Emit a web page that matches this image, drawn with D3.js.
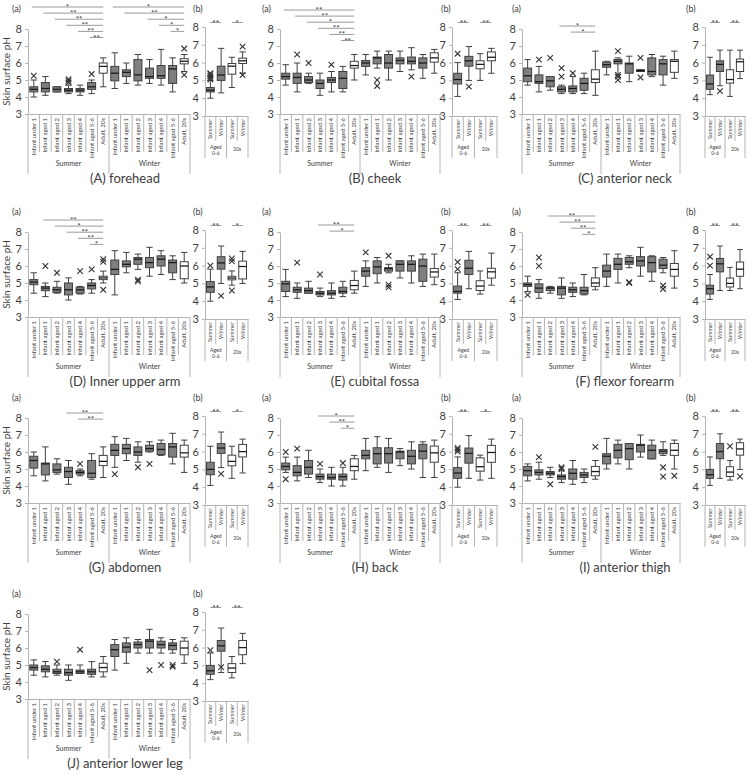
<!DOCTYPE html>
<html>
<head>
<meta charset="utf-8">
<script src="https://cdn.jsdelivr.net/npm/d3@7"></script>
<style>
body { margin: 0; background: #fff; }
text { font-family: Lato, "Open Sans", sans-serif; fill: #404040; }
</style>
</head>
<body>
<svg id="chart" width="750" height="781"></svg>
<script>
//categories and labels
var cats = ["Infant under 1", "Infant aged 1", "Infant aged 2", "Infant aged 3", "Infant aged 4", "Infant aged 5-6", "Adult, 20s"];
var seasons = ["Summer", "Winter"];
var bCats = ["Summer", "Winter", "Summer", "Winter"];
var bGroups = [["Aged", "0-6"], ["20s"]];
var yTicks = [3, 4, 5, 6, 7, 8];
var titles = ["(A) forehead", "(B) cheek", "(C) anterior  neck", "(D) Inner upper arm", "(E) cubital fossa",
              "(F) flexor forearm", "(G) abdomen", "(H) back", "(I) anterior thigh", "(J) anterior lower leg"];

// each box: [low whisker, q1, median, q3, high whisker, outliers]
var foreheadA = [
  [4.0,4.3,4.45,4.6,5.0,[5.25]], [4.1,4.3,4.5,4.85,5.2,[]], [4.3,4.3,4.45,4.6,4.6,[]],
  [4.2,4.3,4.4,4.5,4.7,[4.85,4.95,5.05]], [4.1,4.3,4.4,4.5,4.7,[]], [4.2,4.45,4.6,4.85,5.0,[5.35]],
  [4.6,5.4,5.8,6.0,6.3,[]],
  [4.5,4.95,5.4,5.8,6.6,[]], [4.8,5.2,5.45,5.6,6.0,[]], [4.7,4.95,5.3,6.2,6.5,[]],
  [4.8,5.1,5.2,5.7,6.2,[]], [4.7,5.1,5.25,5.85,6.8,[]], [4.3,4.8,5.65,5.85,6.3,[]],
  [5.5,5.95,6.1,6.25,6.5,[6.85,5.3]]
];
var foreheadB = [
  [4.0,4.35,4.45,4.6,5.0,[5.05,5.15,5.25,5.35,5.4]], [4.3,5.0,5.3,5.8,6.8,[]],
  [4.6,5.35,5.8,5.95,6.3,[]], [5.4,5.95,6.1,6.25,6.6,[6.9,5.3]]
];
var foreheadSig = [[0,6,"*"],[1,6,"**"],[2,6,"**"],[3,6,"**"],[4,6,"**"],[5,6,"**"],
                   [7,13,"*"],[8,13,"**"],[10,13,"*"],[11,13,"*"],[12,13,"*"]];
var foreheadBSig = ["**", "*"];

var cheekA = [
  [4.7,5.05,5.2,5.4,5.9,[]], [4.3,4.8,5.15,5.4,6.0,[6.5]], [4.8,4.85,5.0,5.2,5.4,[6.0]],
  [4.1,4.5,4.8,5.0,5.4,[]], [4.3,4.85,5.0,5.15,5.5,[5.9]], [4.3,4.5,5.1,5.5,5.8,[]],
  [5.0,5.7,5.85,6.1,6.5,[]],
  [5.3,5.8,6.0,6.15,6.5,[]], [5.7,5.95,6.3,6.35,6.7,[5.0,4.65]], [5.0,5.7,6.0,6.5,6.7,[]],
  [5.5,5.95,6.15,6.3,6.7,[]], [5.6,5.95,6.1,6.35,6.9,[5.2]], [5.1,5.7,6.0,6.3,6.5,[]],
  [5.4,6.05,6.3,6.6,6.8,[]]
];
var cheekB = [
  [4.1,4.8,5.05,5.4,6.0,[6.5]], [5.0,5.8,6.1,6.35,6.9,[4.65]],
  [5.0,5.65,5.9,6.1,6.5,[]], [5.4,6.1,6.3,6.6,6.8,[]]
];
var cheekSig = [[0,6,"**"],[1,6,"**"],[2,6,"*"],[3,6,"**"],[4,6,"**"],[5,6,"**"]];
var cheekBSig = ["**", "**"];

var neckA = [
  [4.7,4.9,5.25,5.7,6.2,[]], [4.3,4.8,4.9,5.3,5.8,[6.2]], [4.4,4.6,4.95,5.2,5.2,[6.3]],
  [4.2,4.3,4.45,4.6,4.7,[5.7,5.2]], [4.2,4.3,4.5,4.65,5.2,[5.4]], [4.2,4.4,4.8,5.1,5.4,[]],
  [4.1,4.85,5.05,5.6,6.7,[]],
  [5.3,5.75,5.9,6.05,6.1,[]], [5.3,5.95,6.1,6.2,6.3,[6.7,5.3,5.2,5.0]], [4.9,5.4,5.95,6.0,6.4,[]],
  [5.5,5.5,5.55,5.6,5.6,[6.3,5.15]], [5.2,5.3,5.5,6.3,6.5,[]], [4.7,5.3,5.95,6.2,6.4,[]],
  [5.1,5.45,6.1,6.2,6.7,[]]
];
var neckB = [
  [4.2,4.5,4.8,5.3,6.3,[]], [4.7,5.5,5.9,6.1,6.7,[4.4]],
  [4.1,4.85,5.05,5.6,6.7,[]], [5.1,5.5,6.05,6.2,6.7,[]]
];
var neckSig = [[3,6,"*"],[4,6,"*"]];
var neckBSig = ["**", "**"];

var armA = [
  [4.4,4.9,5.05,5.2,5.6,[]], [4.2,4.55,4.7,4.8,5.0,[6.0]], [4.4,4.45,4.6,4.75,5.1,[5.6]],
  [4.0,4.3,4.6,5.0,5.3,[]], [4.35,4.4,4.6,4.75,4.8,[5.7]], [4.4,4.65,4.85,5.0,5.2,[5.8]],
  [5.0,5.2,5.3,5.4,5.7,[6.4,6.25,4.6]],
  [4.3,5.5,5.8,6.35,6.9,[]], [5.6,5.95,6.1,6.3,6.8,[]], [5.8,6.1,6.4,6.5,6.7,[5.2,5.1]],
  [5.4,5.9,6.2,6.5,7.1,[]], [5.5,6.0,6.4,6.6,6.9,[]], [5.2,5.6,6.2,6.35,6.6,[]],
  [5.0,5.25,6.0,6.25,6.8,[]]
];
var armB = [
  [4.0,4.5,4.8,5.1,5.8,[6.0]], [5.0,5.8,6.15,6.5,7.1,[4.3]],
  [4.9,5.2,5.3,5.4,5.7,[6.4,6.25,4.6]], [5.0,5.25,5.95,6.25,6.8,[]]
];
var armSig = [[1,6,"**"],[2,6,"*"],[3,6,"**"],[4,6,"**"],[5,6,"*"]];
var armBSig = ["**", "*"];

var fossaA = [
  [4.2,4.5,4.95,5.1,5.8,[]], [4.1,4.45,4.6,4.75,5.0,[6.2]], [4.4,4.4,4.55,4.7,5.1,[]],
  [4.2,4.3,4.4,4.5,4.7,[5.5]], [4.1,4.3,4.4,4.55,5.0,[]], [4.2,4.4,4.5,4.75,5.1,[]],
  [4.4,4.6,4.85,5.15,5.7,[]],
  [4.8,5.4,5.7,5.9,6.3,[6.8]], [5.0,5.55,5.95,6.3,6.5,[]], [5.6,5.7,5.85,5.9,6.1,[6.6,4.9,4.75]],
  [5.3,5.7,6.1,6.3,6.3,[]], [5.0,5.7,6.1,6.3,6.6,[]], [4.8,5.1,6.0,6.4,6.7,[]],
  [4.9,5.35,5.65,5.85,6.7,[]]
];
var fossaB = [
  [4.1,4.45,4.55,4.85,5.6,[6.2,5.8]], [4.7,5.5,5.85,6.3,6.8,[]],
  [4.4,4.6,4.85,5.15,5.7,[]], [4.9,5.3,5.65,5.85,6.7,[]]
];
var fossaSig = [[3,6,"**"],[4,6,"*"]];
var fossaBSig = ["**", "**"];

var forearmA = [
  [4.5,4.8,4.9,5.0,5.4,[4.3]], [4.1,4.45,4.7,4.95,5.2,[6.5,6.0]], [4.4,4.55,4.7,4.75,4.8,[]],
  [4.1,4.3,4.7,4.8,5.3,[]], [4.2,4.45,4.6,4.75,5.0,[]], [4.3,4.35,4.55,4.75,5.5,[]],
  [4.6,4.8,5.0,5.3,5.9,[]],
  [4.8,5.35,5.7,6.05,6.7,[]], [5.0,5.8,6.1,6.45,6.7,[]], [5.9,6.1,6.25,6.5,6.6,[5.05,5.0]],
  [5.4,6.0,6.3,6.55,7.1,[]], [5.1,5.65,6.2,6.55,6.6,[]], [5.6,5.85,6.05,6.4,6.5,[4.85,4.65]],
  [4.7,5.4,5.8,6.15,6.9,[]]
];
var forearmB = [
  [4.1,4.4,4.7,4.9,5.5,[6.5,6.0]], [4.6,5.65,6.1,6.4,7.1,[]],
  [4.6,4.8,5.0,5.3,5.9,[]], [4.7,5.4,5.8,6.2,6.9,[]]
];
var forearmSig = [[2,6,"**"],[3,6,"**"],[4,6,"**"],[5,6,"*"]];
var forearmBSig = ["**", "**"];

var abdomenA = [
  [4.6,5.05,5.5,5.75,6.0,[]], [4.3,4.65,5.3,5.35,6.3,[]], [4.7,4.8,4.95,5.3,5.6,[]],
  [4.1,4.5,4.85,5.1,5.5,[]], [4.6,4.7,4.8,4.9,5.0,[5.3]], [4.4,4.5,4.75,5.5,5.9,[]],
  [4.5,5.2,5.45,5.8,6.3,[]],
  [5.1,5.8,6.1,6.45,6.9,[4.7]], [5.5,5.9,6.2,6.45,6.8,[]], [5.4,5.8,6.0,6.3,6.6,[5.1]],
  [6.0,6.05,6.2,6.4,6.6,[5.3]], [5.8,5.85,6.15,6.5,6.7,[]], [5.3,5.7,6.3,6.5,7.1,[]],
  [4.8,5.7,5.95,6.4,6.7,[]]
];
var abdomenB = [
  [4.1,4.7,5.0,5.4,6.3,[]], [5.1,5.9,6.2,6.45,7.1,[4.75]],
  [4.5,5.2,5.45,5.8,6.3,[]], [4.8,5.7,6.0,6.4,6.7,[]]
];
var abdomenSig = [[3,6,"**"],[4,6,"**"]];
var abdomenBSig = ["**", "*"];

var backA = [
  [4.8,4.95,5.15,5.35,5.7,[6.0,4.4]], [4.3,4.6,4.8,5.2,5.7,[6.2]], [4.5,4.7,5.1,5.5,6.1,[]],
  [4.2,4.4,4.55,4.7,5.0,[5.3]], [4.0,4.4,4.5,4.7,5.1,[]], [4.0,4.35,4.55,4.7,5.1,[5.35]],
  [4.4,4.9,5.15,5.6,5.8,[]],
  [4.9,5.6,5.8,6.1,6.8,[]], [5.1,5.3,5.9,6.25,6.9,[]], [4.8,5.35,5.9,6.25,6.8,[]],
  [5.2,5.6,6.0,6.05,6.2,[]], [5.0,5.3,5.75,6.1,6.6,[]], [4.5,5.6,6.05,6.45,6.6,[]],
  [4.5,5.4,5.95,6.35,6.7,[]]
];
var backB = [
  [4.0,4.5,4.8,5.1,5.7,[6.0,6.1,6.2]], [4.5,5.35,5.9,6.2,6.9,[]],
  [4.4,4.9,5.15,5.65,5.8,[]], [4.5,5.4,5.95,6.35,6.7,[]]
];
var backSig = [[3,6,"*"],[4,6,"**"],[5,6,"*"]];
var backBSig = ["**", "*"];

var thighA = [
  [4.3,4.6,4.9,5.15,5.3,[]], [4.4,4.65,4.8,4.95,5.4,[5.7]], [4.5,4.65,4.75,4.85,5.1,[4.1]],
  [4.2,4.4,4.55,4.65,4.9,[5.1,5.0]], [4.1,4.4,4.75,5.0,5.5,[]], [4.2,4.5,4.65,4.8,5.0,[]],
  [4.4,4.6,4.85,5.15,5.5,[6.3]],
  [5.0,5.3,5.75,5.9,6.8,[]], [5.3,5.65,6.1,6.45,6.7,[]], [5.0,5.55,6.2,6.5,6.5,[]],
  [5.7,6.0,6.4,6.45,7.0,[]], [5.6,5.6,6.1,6.4,6.7,[]], [5.8,5.9,6.05,6.15,6.6,[5.1,4.55]],
  [5.0,5.8,6.1,6.5,6.7,[4.6]]
];
var thighB = [
  [4.1,4.5,4.7,5.0,5.7,[]], [4.5,5.6,6.0,6.45,7.0,[]],
  [4.4,4.6,4.85,5.15,5.5,[6.3]], [5.0,5.8,6.15,6.5,6.7,[4.6]]
];
var thighSig = [];
var thighBSig = ["**", "**"];

var legA = [
  [4.4,4.7,4.85,5.0,5.3,[]], [4.3,4.6,4.75,4.95,5.2,[]], [4.4,4.5,4.6,4.75,5.0,[5.2]],
  [4.1,4.4,4.55,4.75,5.0,[]], [4.5,4.5,4.6,4.7,5.0,[5.9]], [4.3,4.45,4.6,4.75,5.2,[]],
  [4.3,4.6,4.85,5.1,5.5,[]],
  [4.7,5.5,5.9,6.2,6.5,[]], [5.1,5.75,6.05,6.3,6.6,[]], [5.7,6.0,6.2,6.35,6.5,[]],
  [5.7,6.0,6.4,6.5,7.1,[4.7]], [5.7,6.0,6.2,6.4,6.6,[5.0]], [5.7,5.9,6.15,6.3,6.5,[5.0,4.9]],
  [5.1,5.6,6.0,6.4,6.6,[]]
];
var legB = [
  [4.2,4.5,4.7,5.0,5.7,[5.85]], [4.6,5.8,6.1,6.4,7.1,[4.9]],
  [4.3,4.6,4.85,5.1,5.5,[]], [5.1,5.6,6.0,6.4,6.8,[]]
];
var legSig = [];
var legBSig = ["**", "**"];

var panels = [
  {a: foreheadA, b: foreheadB, sig: foreheadSig, bSig: foreheadBSig},
  {a: cheekA, b: cheekB, sig: cheekSig, bSig: cheekBSig},
  {a: neckA, b: neckB, sig: neckSig, bSig: neckBSig},
  {a: armA, b: armB, sig: armSig, bSig: armBSig},
  {a: fossaA, b: fossaB, sig: fossaSig, bSig: fossaBSig},
  {a: forearmA, b: forearmB, sig: forearmSig, bSig: forearmBSig},
  {a: abdomenA, b: abdomenB, sig: abdomenSig, bSig: abdomenBSig},
  {a: backA, b: backB, sig: backSig, bSig: backBSig},
  {a: thighA, b: thighB, sig: thighSig, bSig: thighBSig},
  {a: legA, b: legB, sig: legSig, bSig: legBSig}
];

//layout
var cols = [
  {x: 0, ax: 28, aw: 162, bx: 205, bw: 43, bl: 193},
  {x: 250, ax: 30, aw: 160, bx: 202, bw: 45, bl: 191},
  {x: 500, ax: 22, aw: 158, bx: 205, bw: 40, bl: 186}
];
var rowTop = [29, 232, 418, 614];
var sigTop = [-22, -19, -3, -12, -7, -16, -5, -2, 0, 0];
var plotH = 85, bH = 89;
var axisCol = "#b4b4b4", boxLine = "#404040";

var svg = d3.select("#chart");

function drawBoxes(g, data, x, y, whiteFn) {
  var bw = Math.min(8, x.bandwidth() * 0.72), cap = bw * 0.8;
  data.forEach(function(d, i) {
    var cx = x(i) + x.bandwidth() / 2;
    var bg = g.append("g");
    bg.append("line").attr("x1", cx).attr("x2", cx).attr("y1", y(d[0])).attr("y2", y(d[4]))
      .attr("stroke", boxLine);
    [d[0], d[4]].forEach(function(v) {
      bg.append("line").attr("x1", cx - cap / 2).attr("x2", cx + cap / 2)
        .attr("y1", y(v)).attr("y2", y(v)).attr("stroke", boxLine);
    });
    bg.append("rect").attr("x", cx - bw / 2).attr("width", bw)
      .attr("y", y(d[3])).attr("height", Math.max(0.5, y(d[1]) - y(d[3])))
      .attr("fill", whiteFn(i) ? "#fff" : "#7f7f7f").attr("stroke", boxLine);
    bg.append("line").attr("x1", cx - bw / 2).attr("x2", cx + bw / 2)
      .attr("y1", y(d[2])).attr("y2", y(d[2])).attr("stroke", "#1a1a1a").attr("stroke-width", 1.3);
    d[5].forEach(function(o) {
      var oy = y(o), s = 2.8;
      bg.append("path").attr("d", "M" + (cx - s) + "," + (oy - s) + "L" + (cx + s) + "," + (oy + s) +
                                   "M" + (cx - s) + "," + (oy + s) + "L" + (cx + s) + "," + (oy - s))
        .attr("stroke", "#333").attr("stroke-width", 1.1).attr("fill", "none");
    });
  });
}

function yAxis(g, y, xpos) {
  var ax = g.append("g").attr("transform", "translate(" + xpos + ",0)")
    .call(d3.axisLeft(y).tickValues(yTicks).tickSize(3).tickSizeOuter(0).tickFormat(d3.format("d")));
  ax.select(".domain").attr("stroke", axisCol);
  ax.selectAll(".tick line").attr("stroke", axisCol);
  ax.selectAll(".tick text").attr("font-size", 11).attr("fill", "#404040")
    .style("font-family", "Lato, sans-serif");
}

function drawPanel(p, i) {
  var col = cols[i % 3], y8 = rowTop[Math.floor(i / 3)];
  var g = svg.append("g").attr("transform", "translate(" + col.x + ",0)");

  // (a) chart
  var x = d3.scaleBand().domain(d3.range(14)).range([col.ax, col.ax + col.aw]);
  var y = d3.scaleLinear().domain([3, 8]).range([y8 + plotH, y8]);
  var y3 = y(3);
  yAxis(g, y, col.ax);
  g.append("g").attr("transform", "translate(0," + y3 + ")")
    .call(d3.axisBottom(x).tickSize(0).tickFormat(""))
    .select(".domain").attr("stroke", axisCol);

  // category separators and labels
  d3.range(15).forEach(function(k) {
    var xs = col.ax + k * x.step();
    var long = (k % 7 === 0);
    g.append("line").attr("x1", xs).attr("x2", xs).attr("y1", y3).attr("y2", y3 + (long ? 60 : 38))
      .attr("stroke", axisCol);
  });
  d3.range(14).forEach(function(k) {
    var cx = x(k) + x.bandwidth() / 2;
    g.append("text").attr("transform", "translate(" + (cx + 2) + "," + (y3 + 4) + ") rotate(-90)")
      .attr("text-anchor", "end").attr("font-size", 6).text(cats[k % 7]);
  });
  seasons.forEach(function(s, k) {
    g.append("text").attr("x", col.ax + (k * 7 + 3.5) * x.step()).attr("y", y3 + 52)
      .attr("text-anchor", "middle").attr("font-size", 7).text(s);
  });

  // significance bars
  var ranks = {};
  p.sig.forEach(function(s) {
    var key = s[1];
    ranks[key] = (ranks[key] || 0);
    var ly = y8 + sigTop[i] + ranks[key] * 6.1;
    ranks[key] += 1;
    var x1 = x(s[0]) + x.bandwidth() / 2 - 2, x2 = x(s[1]) + x.bandwidth() / 2;
    g.append("line").attr("x1", x1).attr("x2", x2).attr("y1", ly).attr("y2", ly)
      .attr("stroke", "#9a9a9a");
    g.append("text").attr("x", (x1 + x2) / 2).attr("y", ly + 3).attr("text-anchor", "middle")
      .attr("font-size", 8).text(s[2]);
  });

  drawBoxes(g, p.a, x, y, function(k) { return k % 7 === 6; });

  // (b) chart
  var xb = d3.scaleBand().domain(d3.range(4)).range([col.bx, col.bx + col.bw]);
  var yb = d3.scaleLinear().domain([3, 8]).range([y8 - 2 + bH, y8 - 2]);
  var yb3 = yb(3);
  yAxis(g, yb, col.bx);
  g.append("g").attr("transform", "translate(0," + yb3 + ")")
    .call(d3.axisBottom(xb).tickSize(0).tickFormat(""))
    .select(".domain").attr("stroke", axisCol);
  d3.range(5).forEach(function(k) {
    var xs = col.bx + k * xb.step();
    var long = (k % 2 === 0);
    g.append("line").attr("x1", xs).attr("x2", xs).attr("y1", yb3).attr("y2", yb3 + (long ? 42 : 25))
      .attr("stroke", axisCol);
  });
  bCats.forEach(function(c, k) {
    var cx = xb(k) + xb.bandwidth() / 2;
    g.append("text").attr("transform", "translate(" + (cx + 2) + "," + (yb3 + 3) + ") rotate(-90)")
      .attr("text-anchor", "end").attr("font-size", 5.5).text(c);
  });
  bGroups.forEach(function(lines, k) {
    var cx = col.bx + (k * 2 + 1) * xb.step();
    lines.forEach(function(t, j) {
      g.append("text").attr("x", cx).attr("y", yb3 + (lines.length > 1 ? 33 + j * 5.5 : 35))
        .attr("text-anchor", "middle").attr("font-size", 5).text(t);
    });
  });
  p.bSig.forEach(function(s, k) {
    var ly = yb(8) - 4.5;
    var x1 = xb(k * 2) + xb.bandwidth() / 2, x2 = xb(k * 2 + 1) + xb.bandwidth() / 2;
    g.append("line").attr("x1", x1).attr("x2", x2).attr("y1", ly).attr("y2", ly).attr("stroke", "#9a9a9a");
    g.append("text").attr("x", (x1 + x2) / 2).attr("y", ly + 3).attr("text-anchor", "middle")
      .attr("font-size", 8).text(s);
  });
  drawBoxes(g, p.b, xb, yb, function(k) { return k >= 2; });

  // labels
  g.append("text").attr("x", 12).attr("y", y8 - 17).attr("font-size", 9).text("(a)");
  g.append("text").attr("x", col.bl).attr("y", y8 - 17).attr("font-size", 9).text("(b)");
  if (i % 3 === 0) {
    g.append("text").attr("transform", "translate(10," + (y8 + plotH / 2) + ") rotate(-90)")
      .attr("text-anchor", "middle").attr("font-size", 10).text("Skin surface pH");
  }
  g.append("text").attr("x", 125).attr("y", y3 + 69).attr("text-anchor", "middle")
    .attr("font-size", 13).text(titles[i]);
}

panels.forEach(drawPanel);
</script>
</body>
</html>
